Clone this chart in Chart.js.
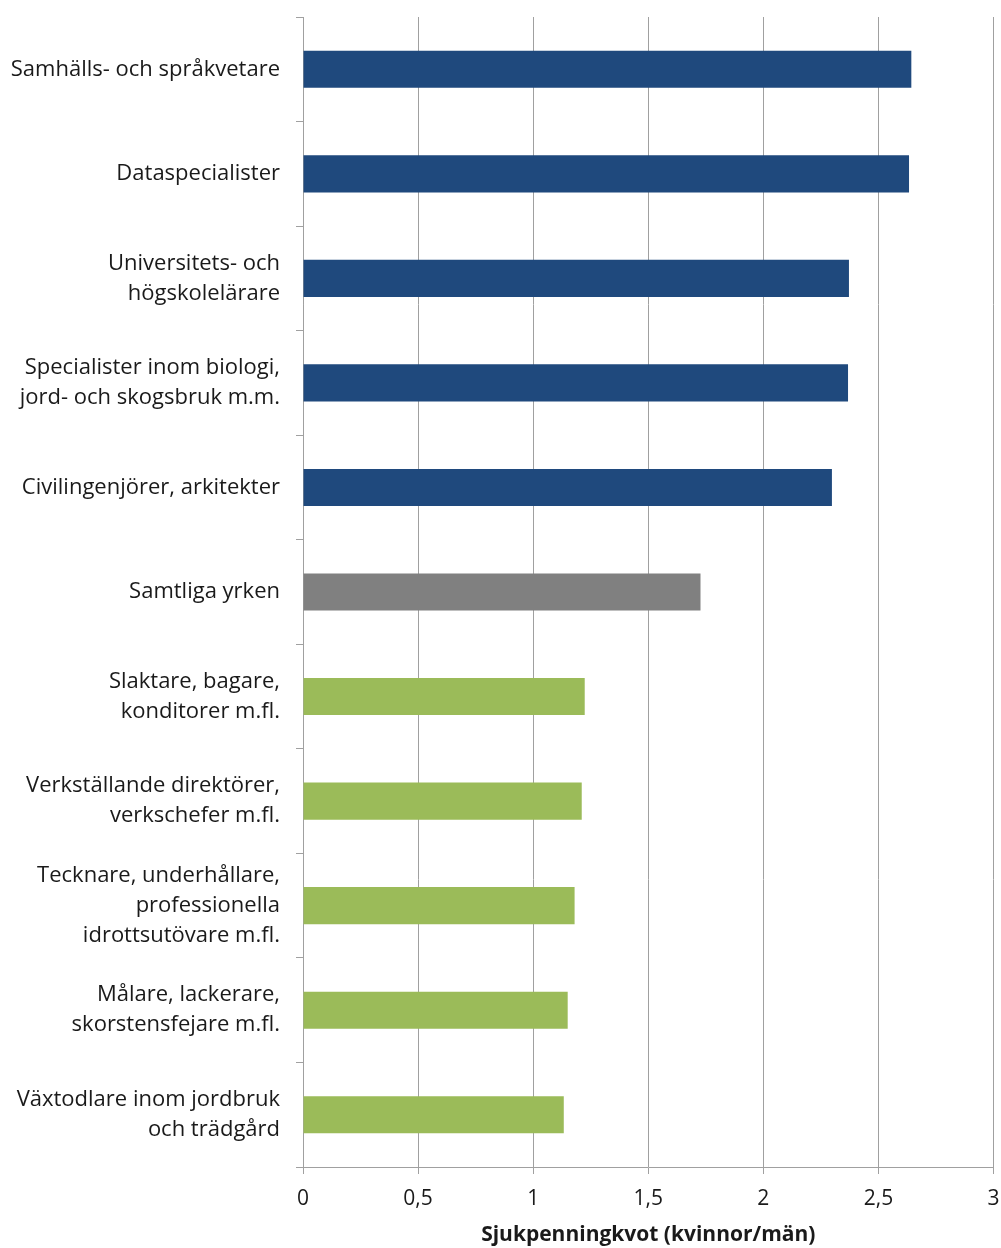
<!DOCTYPE html>
<html>
<head>
<meta charset="utf-8">
<script src="https://cdn.jsdelivr.net/npm/chart.js@4/dist/chart.umd.min.js"></script>
<style>
  html, body { margin: 0; padding: 0; background: #fff; }
  #wrap { width: 1001px; height: 1248px; position: relative; }
</style>
</head>
<body>
<div id="wrap"><canvas id="chart"></canvas></div>
<script>
// yrkesgrupper, uppifrån och ned
const categories = [
  ["Samhälls- och språkvetare"],
  ["Dataspecialister"],
  ["Universitets- och", "högskolelärare"],
  ["Specialister inom biologi,", "jord- och skogsbruk m.m."],
  ["Civilingenjörer, arkitekter"],
  ["Samtliga yrken"],
  ["Slaktare, bagare,", "konditorer m.fl."],
  ["Verkställande direktörer,", "verkschefer m.fl."],
  ["Tecknare, underhållare,", "professionella", "idrottsutövare m.fl."],
  ["Målare, lackerare,", "skorstensfejare m.fl."],
  ["Växtodlare inom jordbruk", "och trädgård"]
];
// sjukpenningkvot kvinnor/män
const kvot = [2.643, 2.633, 2.372, 2.368, 2.298, 1.727, 1.224, 1.211, 1.180, 1.150, 1.133];
const groups = ["hög", "hög", "hög", "hög", "hög", "alla", "låg", "låg", "låg", "låg", "låg"];
const xTicks = [0, 0.5, 1, 1.5, 2, 2.5, 3];
const xTitle = "Sjukpenningkvot (kvinnor/män)";

const groupColor = { "hög": "#1f497d", "alla": "#808080", "låg": "#9bbb59" };
const textColor = "#1a1a1a";
const gridColor = "#a0a0a0";

new Chart(document.getElementById("chart"), {
  type: "bar",
  data: {
    labels: categories,
    datasets: [{
      data: kvot,
      backgroundColor: groups.map(g => groupColor[g]),
      borderWidth: 0,
      categoryPercentage: 1,
      barPercentage: 0.355
    }]
  },
  options: {
    indexAxis: "y",
    responsive: true,
    maintainAspectRatio: false,
    animation: false,
    layout: { padding: { top: 17, right: 7.5, bottom: 0, left: 0 } },
    plugins: { legend: { display: false }, tooltip: { enabled: false } },
    scales: {
      x: {
        min: 0, max: 3,
        afterBuildTicks: s => { s.ticks = xTicks.map(v => ({ value: v })); },
        afterFit: s => { s.height = 81; s.paddingLeft = 0; s.paddingRight = 0; },
        ticks: {
          color: textColor,
          font: { family: "'Open Sans', sans-serif", size: 21 },
          padding: 12,
          maxRotation: 0,
          callback: v => String(v).replace(".", ",")
        },
        grid: { color: gridColor, lineWidth: 1, tickLength: 7, drawTicks: true },
        border: { color: gridColor, width: 1 },
        title: {
          display: true, text: xTitle, color: textColor,
          font: { family: "'Open Sans', sans-serif", size: 21, weight: "bold" },
          padding: { top: 6, bottom: 0 }
        }
      },
      y: {
        offset: true,
        afterFit: s => { s.width = 303; s.paddingTop = 0; s.paddingBottom = 0; },
        ticks: {
          color: textColor,
          font: { family: "'Open Sans', sans-serif", size: 22, lineHeight: 1.36 },
          padding: 16,
          autoSkip: false
        },
        grid: { offset: true, drawOnChartArea: false, color: gridColor, tickLength: 7 },
        border: { color: gridColor, width: 1 }
      }
    }
  }
});
</script>
</body>
</html>
